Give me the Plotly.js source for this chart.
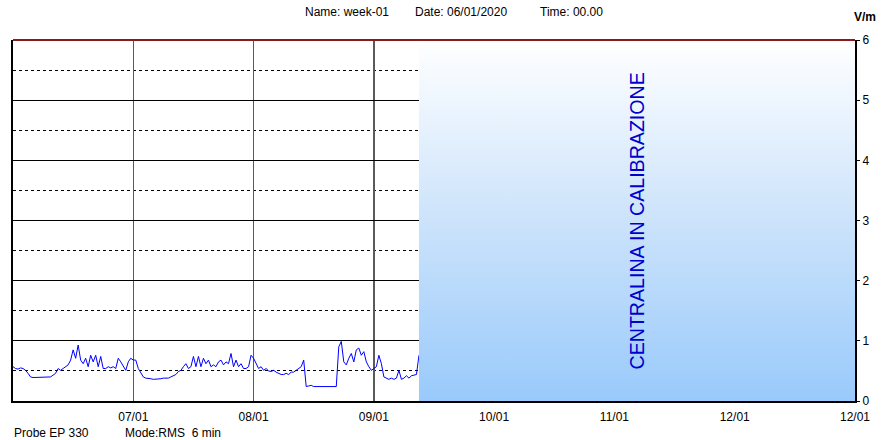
<!DOCTYPE html>
<html>
<head>
<meta charset="utf-8">
<script src="https://cdn.plot.ly/plotly-3.0.1.min.js"></script>
<style>
  html, body { margin: 0; padding: 0; background: #ffffff; }
  #chart { width: 882px; height: 440px; }
</style>
</head>
<body>
<div id="chart"></div>
<script>
// ---- data ----
const seriesStart = '2020-01-06T00:00:00Z';   // first sample
const sampleStepMinutes = 30;                   // sampling step of the values below
const fieldValues = [  // V/m, RMS 6 min
  0.57,0.54,0.53,0.55,0.54,0.51,0.46,0.40,0.39,0.39,
  0.39,0.39,0.39,0.39,0.40,0.40,0.43,0.46,0.54,0.51,
  0.54,0.57,0.60,0.68,0.85,0.71,0.93,0.68,0.62,0.71,
  0.57,0.76,0.65,0.76,0.57,0.74,0.54,0.54,0.57,0.55,
  0.57,0.54,0.71,0.65,0.57,0.51,0.65,0.71,0.68,0.68,
  0.54,0.46,0.40,0.38,0.38,0.37,0.36,0.36,0.37,0.37,
  0.38,0.38,0.38,0.40,0.42,0.44,0.49,0.51,0.57,0.62,
  0.54,0.57,0.74,0.57,0.74,0.57,0.71,0.62,0.68,0.57,
  0.60,0.57,0.65,0.68,0.60,0.65,0.62,0.79,0.57,0.68,
  0.57,0.62,0.54,0.54,0.57,0.76,0.71,0.62,0.54,0.57,
  0.51,0.54,0.50,0.49,0.51,0.48,0.46,0.44,0.44,0.46,
  0.44,0.48,0.48,0.51,0.54,0.57,0.68,0.24,0.25,0.26,
  0.24,0.24,0.24,0.24,0.24,0.24,0.24,0.24,0.24,0.24,
  0.90,0.99,0.65,0.60,0.71,0.79,0.65,0.85,0.88,0.76,
  0.82,0.65,0.57,0.51,0.54,0.57,0.76,0.62,0.40,0.38,
  0.36,0.38,0.36,0.38,0.51,0.36,0.38,0.42,0.38,0.42,
  0.43,0.44,0.76
];
const xRange = ['2020-01-06 00:00', '2020-01-13 00:00'];
const yRange = [0, 6];
const xTickVals = ['2020-01-07','2020-01-08','2020-01-09','2020-01-10','2020-01-11','2020-01-12','2020-01-13'];
const xTickText = ['07/01','08/01','09/01','10/01','11/01','12/01','12/01'];
const yTickVals = [0,1,2,3,4,5,6];
const yTickText = ['0','1','2','3','4','5','6'];
const headerName = 'Name: week-01';
const headerDate = 'Date: 06/01/2020';
const headerTime = 'Time: 00.00';
const unitLabel = 'V/m';
const probeLabel = 'Probe EP 330';
const modeLabel = 'Mode:RMS\u00a0 6 min';
const calibrationText = 'CENTRALINA IN CALIBRAZIONE';

// ---- build ----
function fmt(ms) { return new Date(ms).toISOString().slice(0,16).replace('T',' '); }
const t0 = Date.parse(seriesStart);
const times = fieldValues.map((_, i) => fmt(t0 + i * sampleStepMinutes * 60000));
const lastTime = times[times.length - 1];
const endMs = Date.parse(xRange[1].replace(' ', 'T') + ':00Z');
const midCal = fmt((Date.parse(lastTime.replace(' ', 'T') + ':00Z') + endMs) / 2);

const FONT = 'Liberation Sans, Arial, sans-serif';

const dataTrace = {
  x: times, y: fieldValues, type: 'scatter', mode: 'lines',
  line: { color: '#0000FF', width: 1 }, hoverinfo: 'skip', showlegend: false
};
const calibrationBox = {
  x: [lastTime, xRange[1], xRange[1], lastTime, lastTime],
  y: [yRange[0], yRange[0], yRange[1], yRange[1], yRange[0]],
  type: 'scatter', mode: 'lines', fill: 'toself',
  line: { width: 0, color: 'rgba(0,0,0,0)' },
  fillgradient: { type: 'vertical', colorscale: [[0, '#99CAFB'], [0.5, '#CCE3FB'], [1, '#FFFFFF']] },
  hoverinfo: 'skip', showlegend: false
};

const W = 842, H = 361, L = 13, T = 40;
const px = x => (x - L) / W;
const py = y => (T + H - y) / H;

function txt(text, x, y, xanchor, extra) {
  return Object.assign({
    text: text, xref: 'paper', yref: 'paper', x: px(x), y: py(y),
    xanchor: xanchor, yanchor: 'middle', showarrow: false,
    font: { family: FONT, size: 12, color: '#000000' }
  }, extra || {});
}

const layout = {
  width: 882, height: 440,
  margin: { l: 13, r: 27, t: 40, b: 39, pad: 0 },
  paper_bgcolor: '#FFFFFF', plot_bgcolor: '#FFFFFF',
  showlegend: false,
  xaxis: {
    type: 'date', range: xRange, tickmode: 'array', tickvals: xTickVals, ticktext: xTickText,
    showgrid: true, gridcolor: '#5a5a5a', gridwidth: 1.5,
    showline: true, linecolor: '#000000', linewidth: 2, mirror: false,
    ticks: '', zeroline: false, ticklabelstandoff: 4,
    tickfont: { family: FONT, size: 12, color: '#000000' }
  },
  yaxis: {
    range: yRange, side: 'right', tickmode: 'array', tickvals: yTickVals, ticktext: yTickText,
    showgrid: true, gridcolor: '#000000', gridwidth: 1,
    minor: { dtick: 0.5, tick0: 0, showgrid: true, gridcolor: '#000000', gridwidth: 1, griddash: '3px,3px' },
    showline: true, linecolor: '#000000', linewidth: 2, mirror: true,
    ticks: 'outside', ticklen: 3, tickcolor: '#000000', zeroline: false,
    tickfont: { family: FONT, size: 12, color: '#000000' }
  },
  shapes: [
    { type: 'line', xref: 'paper', yref: 'paper', x0: 0, x1: 1, y0: 1, y1: 1,
      line: { color: '#8B1A1A', width: 2 }, layer: 'above' }
  ],
  annotations: [
    txt(headerName, 303, 12, 'left'),
    txt(headerDate, 413, 12, 'left'),
    txt(headerTime, 538, 12, 'left'),
    txt('<b>' + unitLabel + '</b>', 852, 17, 'left'),
    txt(probeLabel, 12, 433, 'left'),
    txt(modeLabel, 123, 433, 'left'),
    {
      text: calibrationText, xref: 'x', yref: 'y', x: midCal, y: (yRange[0] + yRange[1]) / 2,
      textangle: -90, showarrow: false, xanchor: 'center', yanchor: 'middle',
      font: { family: FONT, size: 19.6, color: '#0000CC' }
    }
  ]
};

Plotly.newPlot('chart', [dataTrace, calibrationBox], layout, { displayModeBar: false, staticPlot: true });
</script>
</body>
</html>
